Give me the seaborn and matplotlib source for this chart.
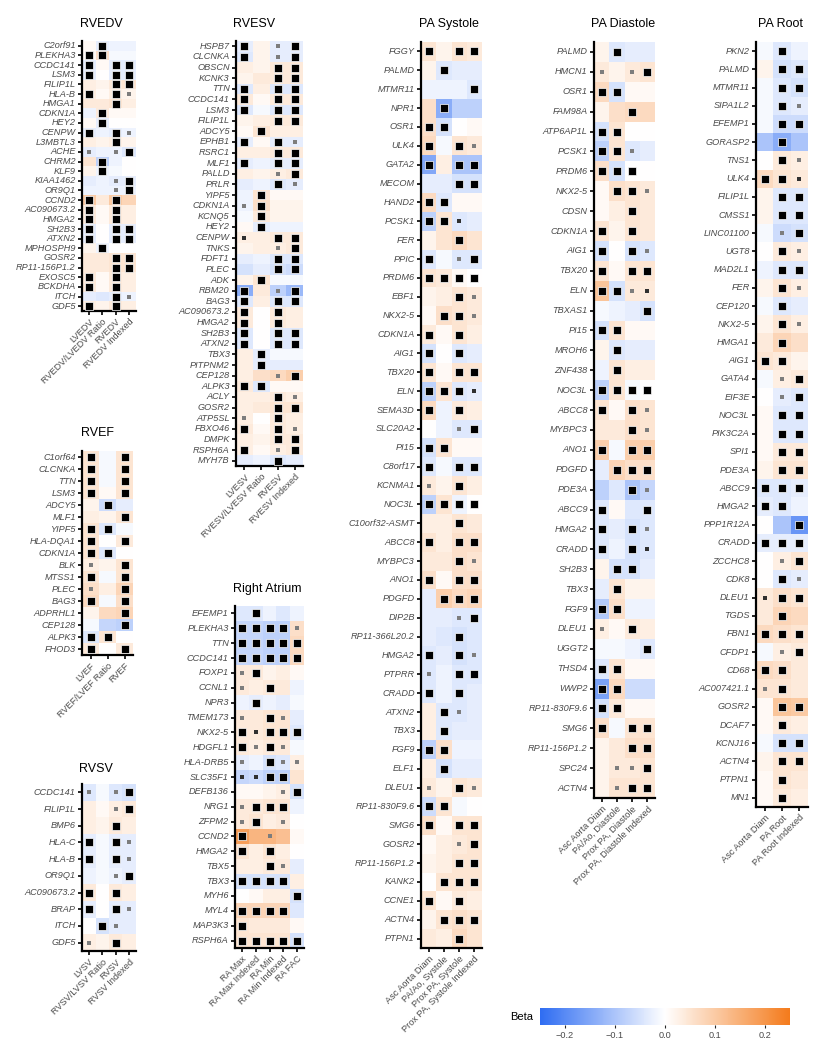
import numpy as np
import pandas as pd
import matplotlib
matplotlib.use('Agg')
import matplotlib.pyplot as plt
from matplotlib.colors import LinearSegmentedColormap, Normalize
import seaborn as sns

sns.set_theme(style='white')
plt.rcParams['font.family'] = ['Liberation Sans', 'DejaVu Sans']

# ----------------------------------------------------------------------------- data
# marks: X = significant (black), o = nominal (grey), d = nominal (dark small)
RVEDV_COLS = ['LVEDV', 'RVEDV/LVEDV Ratio', 'RVEDV', 'RVEDV Indexed']
RVEDV_GENES = ['C2orf91', 'PLEKHA3', 'CCDC141', 'LSM3', 'FILIP1L', 'HLA-B', 'HMGA1',
               'CDKN1A', 'HEY2', 'CENPW', 'L3MBTL3', 'ACHE', 'CHRM2', 'KLF9', 'KIAA1462',
               'OR9Q1', 'CCND2', 'AC090673.2', 'HMGA2', 'SH2B3', 'ATXN2', 'MPHOSPH9',
               'GOSR2', 'RP11-156P1.2', 'EXOSC5', 'BCKDHA', 'ITCH', 'GDF5']
RVEDV_BETA = [[0.01, -0.03, -0.02, -0.02], [0.01, 0.06, -0.01, -0.01], [-0.03, 0.01, -0.03, -0.03],
              [-0.03, 0.0, -0.03, -0.03], [0.03, 0.02, 0.04, 0.05], [0.03, 0.01, 0.03, 0.02],
              [0.04, 0.04, 0.05, 0.03], [-0.02, 0.04, 0.01, 0.01], [0.01, -0.03, 0.0, 0.0],
              [-0.03, -0.02, -0.03, -0.02], [0.03, 0.02, 0.03, 0.02], [-0.03, -0.02, -0.02, -0.04],
              [0.05, -0.08, -0.02, 0.0], [0.02, -0.02, -0.01, 0.0], [-0.03, -0.02, -0.03, -0.03],
              [-0.02, -0.02, -0.02, -0.02], [0.1, 0.04, 0.1, 0.08], [0.04, 0.01, 0.04, 0.03],
              [0.04, 0.01, 0.04, 0.03], [-0.03, 0.0, -0.03, -0.03], [-0.03, 0.0, -0.03, -0.03],
              [0.02, -0.02, 0.0, 0.0], [0.04, 0.04, 0.05, 0.05], [0.04, 0.04, 0.05, 0.05],
              [0.04, 0.01, 0.04, 0.03], [0.04, 0.01, 0.04, 0.03], [-0.03, -0.04, -0.03, -0.02],
              [0.03, 0.02, 0.04, 0.03]]
RVEDV_SIG = ['.X..', 'XX..', 'X.XX', 'X.XX', '..XX', 'X.Xo', '..X.', '.X..', '.X..', 'X.Xo',
             '..X.', 'o.oX', '.X..', '.X..', '..oX', '..oX', 'X.X.', 'X.X.', 'X.X.', 'X.XX',
             'X.XX', '.X..', '..XX', '..XX', 'X.X.', 'X.X.', '..Xo', 'X.X.']

RVEF_COLS = ['LVEF', 'RVEF/LVEF Ratio', 'RVEF']
RVEF_GENES = ['C1orf64', 'CLCNKA', 'TTN', 'LSM3', 'ADCY5', 'MLF1', 'YIPF5', 'HLA-DQA1',
              'CDKN1A', 'BLK', 'MTSS1', 'PLEC', 'BAG3', 'ADPRHL1', 'CEP128', 'ALPK3', 'FHOD3']
RVEF_BETA = [[0.05, -0.01, 0.05], [0.05, -0.01, 0.05], [0.05, -0.01, 0.05], [0.05, 0.01, 0.05],
             [0.02, -0.06, -0.03], [0.03, 0.02, 0.05], [0.05, -0.04, -0.01], [0.05, 0.0, 0.04],
             [0.05, -0.04, 0.0], [0.03, 0.02, 0.05], [0.05, -0.01, 0.05], [0.06, 0.03, 0.08],
             [0.07, -0.01, 0.06], [0.02, 0.07, 0.08], [-0.01, -0.07, -0.08], [-0.04, 0.05, 0.0],
             [0.04, 0.0, 0.04]]
RVEF_SIG = ['X.X', 'X.X', 'X.X', 'X.X', '.X.', '..X', 'XX.', 'X.X', 'XX.', 'o.X', 'X.X',
            'o.X', 'X.X', '..X', '..X', 'XX.', 'X.X']

RVSV_COLS = ['LVSV', 'RVSV/LVSV Ratio', 'RVSV', 'RVSV Indexed']
RVSV_GENES = ['CCDC141', 'FILIP1L', 'BMP6', 'HLA-C', 'HLA-B', 'OR9Q1', 'AC090673.2',
              'BRAP', 'ITCH', 'GDF5']
RVSV_BETA = [[-0.04, -0.01, -0.04, -0.05], [0.03, 0.01, 0.03, 0.04], [0.03, 0.02, 0.04, 0.03],
             [-0.03, -0.01, -0.03, -0.03], [-0.03, -0.01, -0.03, -0.03], [-0.02, -0.01, -0.02, -0.03],
             [0.04, 0.0, 0.04, 0.03], [-0.03, 0.0, -0.03, -0.03], [0.0, -0.05, -0.03, -0.03],
             [0.03, 0.02, 0.04, 0.03]]
RVSV_SIG = ['o.oX', '..oX', '..X.', 'X.Xo', 'X.Xo', '..oX', 'X.X.', 'X.Xo', '.Xo.', 'o.X.']

RVESV_COLS = ['LVESV', 'RVESV/LVESV Ratio', 'RVESV', 'RVESV Indexed']
RVESV_GENES = ['HSPB7', 'CLCNKA', 'OBSCN', 'KCNK3', 'TTN', 'CCDC141', 'LSM3', 'FILIP1L',
               'ADCY5', 'EPHB1', 'RSRC1', 'MLF1', 'PALLD', 'PRLR', 'YIPF5', 'CDKN1A', 'KCNQ5',
               'HEY2', 'CENPW', 'TNKS', 'FDFT1', 'PLEC', 'ADK', 'RBM20', 'BAG3', 'AC090673.2',
               'HMGA2', 'SH2B3', 'ATXN2', 'TBX3', 'PITPNM2', 'CEP128', 'ALPK3', 'ACLY', 'GOSR2',
               'ATP5SL', 'FBXO46', 'DMPK', 'RSPH6A', 'MYH7B']
RVESV_BETA = [[-0.03, 0.02, -0.03, -0.03], [-0.04, 0.02, -0.03, -0.03], [0.03, 0.02, 0.04, 0.04],
              [0.02, 0.04, 0.04, 0.04], [-0.04, 0.03, -0.04, -0.04], [0.04, 0.01, 0.04, 0.04],
              [-0.04, -0.01, -0.04, -0.04], [0.02, 0.03, 0.04, 0.04], [0.01, 0.05, 0.03, 0.03],
              [-0.03, 0.01, -0.03, -0.03], [0.03, 0.03, 0.04, 0.04], [-0.03, -0.02, -0.03, -0.03],
              [0.03, 0.02, 0.03, 0.04], [-0.03, -0.02, -0.04, -0.03], [-0.02, 0.05, 0.01, 0.01],
              [-0.02, 0.06, 0.02, 0.02], [-0.01, 0.04, 0.02, 0.02], [0.01, -0.03, -0.02, -0.02],
              [0.03, 0.03, 0.04, 0.04], [0.02, 0.03, 0.03, 0.04], [-0.03, -0.02, -0.04, -0.04],
              [-0.05, -0.03, -0.05, -0.06], [0.02, 0.05, -0.01, -0.01], [-0.14, 0.04, -0.08, -0.12],
              [-0.04, 0.03, -0.04, -0.04], [0.04, 0.0, 0.04, 0.03], [0.04, 0.0, 0.04, 0.03],
              [-0.04, 0.0, -0.04, -0.04], [-0.04, 0.0, -0.04, -0.04], [0.03, -0.03, -0.01, -0.01],
              [0.03, -0.03, -0.03, -0.03], [0.03, 0.06, 0.07, 0.09], [0.04, -0.04, 0.01, 0.01],
              [0.03, 0.03, 0.04, 0.03], [0.03, 0.04, 0.05, 0.05], [0.03, 0.0, 0.04, 0.03],
              [0.04, 0.01, 0.04, 0.03], [0.03, 0.02, 0.04, 0.04], [0.03, 0.01, 0.03, 0.04],
              [-0.03, -0.02, -0.04, -0.03]]
RVESV_SIG = ['X.oX', 'X.oX', '..XX', '..XX', 'X.XX', 'X.XX', 'X.XX', '..XX', '.X..', 'X.Xo',
             '..XX', 'X.XX', '..oX', '..Xo', '.X..', 'oX..', '.X..', '.X..', 'd.XX', '..oX',
             '..XX', '..XX', '.X..', 'X.oX', 'X.XX', 'X.X.', 'X.X.', 'X.XX', 'X.XX', '.X..',
             '.X..', '..oX', 'XX..', '..Xo', '..XX', 'o.X.', 'X.Xo', '..XX', 'X.oX', '..X.']

RA_COLS = ['RA Max', 'RA Max Indexed', 'RA Min', 'RA Min Indexed', 'RA FAC']
RA_GENES = ['EFEMP1', 'PLEKHA3', 'TTN', 'CCDC141', 'FOXP1', 'CCNL1', 'NPR3', 'TMEM173',
            'NKX2-5', 'HDGFL1', 'HLA-DRB5', 'SLC35F1', 'DEFB136', 'NRG1', 'ZFPM2', 'CCND2',
            'HMGA2', 'TBX5', 'TBX3', 'MYH6', 'MYL4', 'MAP3K3', 'RSPH6A']
RA_BETA = [[-0.04, -0.04, -0.02, -0.04, -0.02], [-0.07, -0.07, -0.08, -0.08, 0.06],
           [-0.07, -0.07, -0.08, -0.08, 0.07], [-0.07, -0.07, -0.08, -0.08, 0.07],
           [0.04, 0.04, 0.02, 0.03, 0.01], [0.04, 0.03, 0.04, 0.04, -0.02],
           [-0.02, -0.03, -0.02, -0.03, -0.01], [0.04, 0.04, 0.05, 0.05, -0.03],
           [0.04, 0.04, 0.05, 0.05, -0.04], [0.04, 0.03, 0.04, 0.04, -0.01],
           [-0.03, -0.02, -0.05, -0.04, 0.03], [-0.07, -0.06, -0.08, -0.08, 0.05],
           [0.01, 0.01, 0.02, 0.03, -0.05], [0.04, 0.04, 0.05, 0.05, -0.02],
           [0.04, 0.05, 0.03, 0.04, 0.0], [0.18, 0.14, 0.14, 0.12, 0.01],
           [0.05, 0.03, 0.05, 0.03, 0.0], [0.03, 0.03, 0.04, 0.04, -0.03],
           [-0.05, -0.05, -0.05, -0.05, 0.03], [0.0, 0.01, 0.03, 0.03, -0.05],
           [0.08, 0.08, 0.08, 0.08, -0.04], [0.05, 0.04, 0.04, 0.04, 0.01],
           [0.05, 0.05, 0.05, 0.05, -0.05]]
RA_SIG = ['.X...', 'XXXXo', 'XXXXX', 'XXXXX', 'oX...', 'o.X..', '.X...', 'o.Xo.', 'XdXXX',
          'XoXo.', 'o.Xoo', 'ddXX.', '...oX', 'oXXX.', 'oX.o.', 'X.o..', 'X.X..', '..Xo.',
          'XXXX.', '....X', 'XXXX.', 'X....', 'XXXXX']

PAS_COLS = ['Asc Aorta Diam', 'PA/Ao, Systole', 'Prox PA, Systole', 'Prox PA, Systole Indexed']
PAS_GENES = ['FGGY', 'PALMD', 'MTMR11', 'NPR1', 'OSR1', 'ULK4', 'GATA2', 'MECOM', 'HAND2',
             'PCSK1', 'FER', 'PPIC', 'PRDM6', 'EBF1', 'NKX2-5', 'CDKN1A', 'AIG1', 'TBX20', 'ELN',
             'SEMA3D', 'SLC20A2', 'PI15', 'C8orf17', 'KCNMA1', 'NOC3L', 'C10orf32-ASMT', 'ABCC8',
             'MYBPC3', 'ANO1', 'PDGFD', 'DIP2B', 'RP11-366L20.2', 'HMGA2', 'PTPRR', 'CRADD',
             'ATXN2', 'TBX3', 'FGF9', 'ELF1', 'DLEU1', 'RP11-830F9.6', 'SMG6', 'GOSR2',
             'RP11-156P1.2', 'KANK2', 'CCNE1', 'ACTN4', 'PTPN1']
PAS_BETA = [[0.05, 0.02, 0.05, 0.04], [0.02, -0.04, -0.03, -0.03], [-0.02, -0.02, -0.02, -0.04],
            [0.06, -0.14, -0.08, -0.08], [0.06, -0.05, 0.0, 0.01], [0.07, -0.01, 0.05, 0.04],
            [-0.15, 0.03, -0.1, -0.1], [-0.03, -0.03, -0.05, -0.05], [0.07, -0.04, 0.01, 0.01],
            [-0.08, 0.05, -0.04, -0.03], [0.02, 0.05, 0.07, 0.05], [-0.04, -0.01, -0.04, -0.04],
            [0.05, 0.04, 0.01, 0.0], [0.02, 0.03, 0.05, 0.04], [0.01, 0.06, 0.05, 0.04],
            [0.04, 0.01, 0.05, 0.03], [-0.05, 0.0, -0.04, -0.03], [0.05, 0.01, 0.05, 0.05],
            [-0.08, 0.05, -0.04, -0.03], [0.07, -0.02, 0.04, 0.03], [0.0, -0.02, -0.04, -0.04],
            [-0.05, 0.05, 0.01, 0.01], [-0.04, -0.01, -0.04, -0.04], [0.04, 0.02, 0.05, 0.03],
            [-0.08, 0.05, -0.02, 0.0], [0.03, 0.03, 0.05, 0.04], [0.05, 0.03, 0.06, 0.06],
            [0.04, 0.04, 0.06, 0.05], [0.06, 0.01, 0.06, 0.06], [-0.03, 0.09, 0.07, 0.08],
            [-0.03, -0.03, -0.04, -0.04], [-0.03, -0.04, -0.05, -0.04], [-0.04, -0.03, -0.05, -0.04],
            [-0.04, -0.02, -0.04, -0.04], [-0.04, -0.02, -0.04, -0.03], [0.03, -0.04, -0.04, -0.03],
            [0.03, -0.04, -0.03, -0.03], [-0.08, 0.06, -0.02, -0.02], [0.03, -0.05, -0.03, -0.03],
            [0.04, 0.02, 0.05, 0.04], [-0.06, 0.05, -0.01, 0.0], [0.06, 0.01, 0.05, 0.05],
            [0.01, 0.03, 0.04, 0.05], [0.02, 0.03, 0.05, 0.05], [0.0, 0.05, 0.05, 0.05],
            [0.05, 0.01, 0.04, 0.03], [0.02, 0.05, 0.06, 0.05], [0.04, 0.03, 0.07, 0.05]]
PAS_SIG = ['X.XX', '.X..', '...X', '.X..', 'XX..', 'X.Xo', 'X.XX', '..XX', 'XX..', 'XXd.',
           '..X.', 'X.oX', 'XXXX', '..Xo', '.XXo', 'X.X.', 'X.X.', 'X.XX', 'XXXd', 'X.X.',
           '..oX', 'XX..', 'X.XX', 'o.X.', 'XXXX', '..X.', 'X.XX', '..Xo', 'X.XX', '.XXX',
           '..oX', '..X.', 'X.Xo', 'o.XX', 'X.X.', '.Xo.', '.X..', 'XX..', '.X..', 'o.Xo',
           'XX..', 'X.XX', '..oX', '..XX', '.XXX', 'X.X.', '.XXX', '..X.']

PAD_COLS = ['Asc Aorta Diam', 'PA/Ao, Diastole', 'Prox PA, Diastole', 'Prox PA, Diastole Indexed']
PAD_GENES = ['PALMD', 'HMCN1', 'OSR1', 'FAM98A', 'ATP6AP1L', 'PCSK1', 'PRDM6', 'NKX2-5',
             'CDSN', 'CDKN1A', 'AIG1', 'TBX20', 'ELN', 'TBXAS1', 'PI15', 'MROH6', 'ZNF438',
             'NOC3L', 'ABCC8', 'MYBPC3', 'ANO1', 'PDGFD', 'PDE3A', 'ABCC9', 'HMGA2', 'CRADD',
             'SH2B3', 'TBX3', 'FGF9', 'DLEU1', 'UGGT2', 'THSD4', 'WWP2', 'RP11-830F9.6', 'SMG6',
             'RP11-156P1.2', 'SPC24', 'ACTN4']
PAD_BETA = [[0.02, -0.04, -0.03, -0.03], [0.04, 0.02, 0.04, 0.05], [0.07, -0.05, 0.01, 0.01],
            [0.02, 0.06, 0.07, 0.07], [-0.05, 0.05, 0.0, 0.0], [-0.08, 0.05, -0.04, -0.03],
            [0.06, -0.05, 0.0, 0.0], [0.01, 0.06, 0.05, 0.04], [0.01, 0.03, 0.05, 0.04],
            [0.05, 0.02, 0.05, 0.04], [-0.05, 0.0, -0.05, -0.04], [0.05, 0.01, 0.05, 0.05],
            [0.11, -0.05, 0.04, 0.04], [-0.01, -0.02, -0.03, -0.05], [-0.05, 0.05, 0.01, 0.01],
            [0.02, -0.04, -0.03, -0.03], [-0.02, 0.05, 0.03, 0.03], [-0.08, 0.05, -0.01, 0.0],
            [0.05, 0.01, 0.06, 0.05], [0.04, 0.04, 0.06, 0.05], [0.09, -0.01, 0.09, 0.09],
            [-0.03, 0.08, 0.06, 0.06], [-0.08, -0.04, -0.1, -0.07], [-0.04, 0.01, -0.04, -0.04],
            [-0.04, -0.03, -0.05, -0.04], [-0.04, -0.02, -0.05, -0.04], [0.02, -0.05, -0.05, -0.03],
            [-0.03, 0.05, 0.02, 0.02], [-0.09, 0.06, -0.02, -0.02], [0.03, 0.01, 0.04, 0.03],
            [-0.01, -0.01, -0.02, -0.04], [-0.04, 0.05, 0.01, 0.01], [-0.16, 0.07, -0.06, -0.06],
            [-0.05, 0.04, 0.01, 0.01], [0.06, -0.01, 0.05, 0.05], [0.02, 0.04, 0.06, 0.06],
            [0.02, 0.04, 0.04, 0.05], [0.02, 0.05, 0.05, 0.05]]
PAD_SIG = ['.X..', 'o.oX', 'XX..', '..X.', 'XX..', 'XXo.', 'XXX.', '.XXo', '..X.', 'X.X.',
           'X.Xo', 'X.XX', 'XXod', '...X', 'XX..', '.X..', '.X..', 'XXXX', 'X.Xo', '..Xo',
           'X.XX', '.XXX', '..Xo', 'X..X', 'X.Xo', 'X.Xd', '.XX.', '.X..', 'XX..', 'o.X.',
           '...X', 'XX..', 'XX..', 'XX..', 'X.XX', '..XX', '.ooX', '.oXX']

PAR_COLS = ['Asc Aorta Diam', 'PA Root', 'PA Root Indexed']
PAR_GENES = ['PKN2', 'PALMD', 'MTMR11', 'SIPA1L2', 'EFEMP1', 'GORASP2', 'TNS1', 'ULK4',
             'FILIP1L', 'CMSS1', 'LINC01100', 'UGT8', 'MAD2L1', 'FER', 'CEP120', 'NKX2-5',
             'HMGA1', 'AIG1', 'GATA4', 'EIF3E', 'NOC3L', 'PIK3C2A', 'SPI1', 'PDE3A', 'ABCC9',
             'HMGA2', 'PPP1R12A', 'CRADD', 'ZCCHC8', 'CDK8', 'DLEU1', 'TGDS', 'FBN1', 'CFDP1',
             'CD68', 'AC007421.1', 'GOSR2', 'DCAF7', 'KCNJ16', 'ACTN4', 'PTPN1', 'MN1']
PAR_BETA = [[-0.01, -0.04, -0.02], [0.02, -0.05, -0.04], [-0.01, -0.04, -0.05], [-0.01, -0.04, -0.03],
            [-0.01, -0.06, -0.06], [-0.1, -0.14, -0.1], [0.0, 0.04, 0.03], [0.07, 0.05, 0.04],
            [0.02, -0.04, -0.04], [0.02, -0.04, -0.04], [-0.01, -0.06, -0.05], [0.0, 0.04, 0.03],
            [-0.02, -0.04, -0.04], [0.02, 0.05, 0.03], [-0.01, -0.04, -0.03], [0.02, 0.05, 0.03],
            [0.04, 0.08, 0.06], [0.05, 0.04, 0.02], [-0.01, 0.03, 0.04], [0.0, -0.03, -0.04],
            [0.01, -0.04, -0.04], [0.01, -0.04, -0.04], [0.01, 0.04, 0.04], [0.02, 0.05, 0.05],
            [-0.04, -0.04, -0.03], [-0.03, -0.04, -0.02], [0.0, -0.1, -0.18], [-0.03, -0.03, -0.03],
            [0.0, 0.03, 0.05], [0.0, -0.04, -0.03], [0.04, 0.06, 0.05], [0.04, 0.08, 0.07],
            [0.07, 0.06, 0.05], [-0.01, 0.03, 0.04], [0.07, 0.06, 0.04], [0.05, 0.05, 0.04],
            [0.01, 0.11, 0.1], [0.01, 0.04, 0.03], [-0.01, -0.05, -0.05], [0.02, 0.05, 0.05],
            [0.01, 0.05, 0.04], [0.01, 0.04, 0.03]]
PAR_SIG = ['.X.', '.XX', '.XX', '.Xo', '.XX', '.X.', '.Xo', 'XXd', '.XX', '.XX', '.oX', '.Xo',
           '.XX', '.Xo', '.X.', '.Xo', '.X.', 'XX.', '.oX', '.oX', '.XX', '.XX', '.XX', '.XX',
           'XXX', 'XX.', '..X', 'XXX', '.oX', '.Xo', 'dXX', '.X.', 'XXX', '.oX', 'XX.', 'oX.',
           '.XX', '.X.', '.XX', '.XX', '.X.', '.X.']

BETA_TICKS = [-0.2, -0.1, 0.0, 0.1, 0.2]
BETA_TICKLABELS = ['\u22120.2', '\u22120.1', '0.0', '0.1', '0.2']

# ----------------------------------------------------------------------------- layout (px)
W, H = 824, 1050
# title, genes, cols, beta, sig, (left, top, right, bottom), title (x, y)
PANELS = [
    ('RVEDV', RVEDV_GENES, RVEDV_COLS, RVEDV_BETA, RVEDV_SIG, (82, 41, 136, 311), (101, 24)),
    ('RVEF', RVEF_GENES, RVEF_COLS, RVEF_BETA, RVEF_SIG, (82, 451, 133, 655), (97, 433)),
    ('RVSV', RVSV_GENES, RVSV_COLS, RVSV_BETA, RVSV_SIG, (82, 784, 136, 951), (96, 769)),
    ('RVESV', RVESV_GENES, RVESV_COLS, RVESV_BETA, RVESV_SIG, (236, 41, 303, 466), (254, 24)),
    ('Right Atrium', RA_GENES, RA_COLS, RA_BETA, RA_SIG, (235, 606, 304, 948), (267, 589)),
    ('PA Systole', PAS_GENES, PAS_COLS, PAS_BETA, PAS_SIG, (421, 42, 482, 948), (449, 24)),
    ('PA Diastole', PAD_GENES, PAD_COLS, PAD_BETA, PAD_SIG, (594, 42, 655, 798), (623, 24)),
    ('PA Root', PAR_GENES, PAR_COLS, PAR_BETA, PAR_SIG, (756, 42, 808, 807), (781, 24)),
]

cmap = LinearSegmentedColormap.from_list('beta', ['#2f6df2', '#ffffff', '#f47b1c'])
VMIN, VMAX = -0.25, 0.25
TXT = '#4a4a4a'

fig = plt.figure(figsize=(W / 100, H / 100), dpi=100)


def px_axes(l, t, r, b):
    return fig.add_axes([l / W, 1 - b / H, (r - l) / W, (b - t) / H])


for title, genes, cols, beta, sig, box, tpos in PANELS:
    ax = px_axes(*box)
    df = pd.DataFrame(beta, index=genes, columns=cols)
    sns.heatmap(df, ax=ax, cmap=cmap, vmin=VMIN, vmax=VMAX, cbar=False,
                xticklabels=cols, yticklabels=genes)
    for i, row in enumerate(sig):
        for j, ch in enumerate(row):
            if ch == 'X':
                ax.scatter(j + 0.5, i + 0.5, marker='s', s=26, color='black',
                           edgecolors='white', linewidths=0.5, zorder=3)
            elif ch == 'o':
                ax.scatter(j + 0.5, i + 0.5, marker='s', s=8, color='#7d7d7d',
                           linewidths=0, zorder=3)
            elif ch == 'd':
                ax.scatter(j + 0.5, i + 0.5, marker='s', s=9, color='#303030',
                           linewidths=0, zorder=3)
    for side in ('left', 'bottom'):
        ax.spines[side].set_visible(True)
        ax.spines[side].set_color('black')
        ax.spines[side].set_linewidth(1.6)
    ax.tick_params(axis='both', left=True, bottom=True, length=3, width=1.2,
                   color='black', pad=1.5)
    ax.set_yticklabels(genes, rotation=0, fontsize=6.6, fontstyle='italic', color=TXT)
    ax.set_xticklabels(cols, rotation=45, ha='right', rotation_mode='anchor',
                       fontsize=6.6, color=TXT)
    ax.set_xlabel(''); ax.set_ylabel('')
    fig.text(tpos[0] / W, 1 - tpos[1] / H, title, ha='center', va='center',
             fontsize=9, color='black')

# colorbar
cax = px_axes(540, 1008, 790, 1025)
sm = matplotlib.cm.ScalarMappable(norm=Normalize(VMIN, VMAX), cmap=cmap)
cb = fig.colorbar(sm, cax=cax, orientation='horizontal', ticks=BETA_TICKS)
cb.outline.set_visible(False)
cax.tick_params(length=2, width=0.8, labelsize=6.6, labelcolor=TXT, pad=2)
cax.set_xticklabels(BETA_TICKLABELS)
fig.text(510 / W, 1 - 1017 / H, 'Beta', ha='left', va='center', fontsize=8, color='black')

fig.savefig('out.png', dpi=100)
